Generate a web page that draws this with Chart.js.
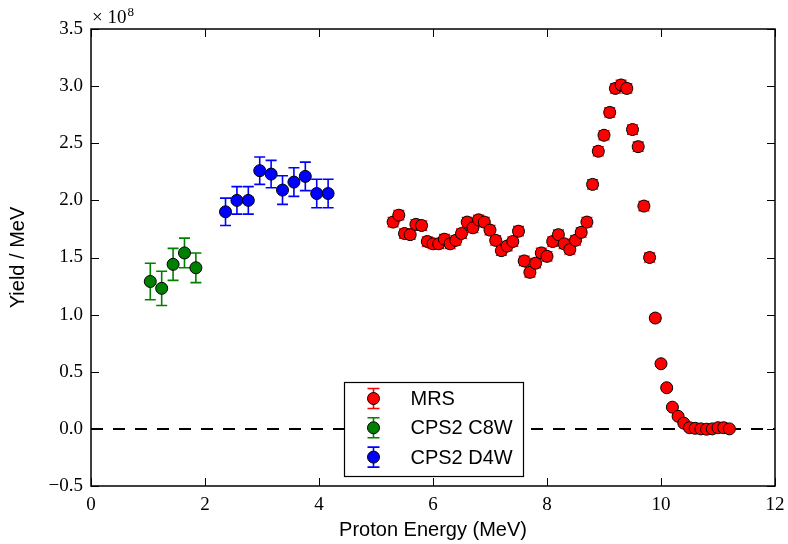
<!DOCTYPE html>
<html>
<head>
<meta charset="utf-8">
<script src="https://cdn.jsdelivr.net/npm/chart.js@4.4.1/dist/chart.umd.min.js"></script>
<style>
  html, body { margin: 0; padding: 0; background: #fff; }
  #wrap { width: 788px; height: 544px; }
</style>
</head>
<body>
<div id="wrap"><canvas id="yieldChart" width="788" height="544"></canvas></div>
<script>
// yield values are in units of 1e8 per MeV (see the x10^8 offset label)
const mrsEnergy = [5.3, 5.4, 5.5, 5.6, 5.7, 5.8, 5.9,
  6.0, 6.1, 6.2, 6.3, 6.4, 6.5, 6.6, 6.7, 6.8, 6.9,
  7.0, 7.1, 7.2, 7.3, 7.4, 7.5, 7.6, 7.7, 7.8, 7.9,
  8.0, 8.1, 8.2, 8.3, 8.4, 8.5, 8.6, 8.7, 8.8, 8.9,
  9.0, 9.1, 9.2, 9.3, 9.4, 9.5, 9.6, 9.7, 9.8, 9.9,
  10.0, 10.1, 10.2, 10.3, 10.4, 10.5, 10.6, 10.7, 10.8, 10.9,
  11.0, 11.1, 11.2];
const mrsYield = [1.81, 1.87, 1.71, 1.70, 1.79, 1.78, 1.64,
  1.62, 1.62, 1.66, 1.62, 1.65, 1.71, 1.81, 1.76, 1.83, 1.81,
  1.74, 1.65, 1.56, 1.60, 1.64, 1.73, 1.47, 1.37, 1.45, 1.54,
  1.51, 1.64, 1.70, 1.62, 1.57, 1.65, 1.72, 1.81, 2.14, 2.43,
  2.57, 2.77, 2.98, 3.01, 2.98, 2.62, 2.47, 1.95, 1.50, 0.97,
  0.57, 0.36, 0.19, 0.11, 0.05, 0.01, 0.005, 0.0, -0.003, 0.0,
  0.01, 0.01, 0.0];
const mrsErr = [0.04, 0.04, 0.04, 0.04, 0.04, 0.04, 0.04,
  0.04, 0.04, 0.04, 0.04, 0.04, 0.04, 0.04, 0.04, 0.04, 0.04,
  0.04, 0.04, 0.04, 0.04, 0.04, 0.04, 0.04, 0.04, 0.04, 0.04,
  0.04, 0.04, 0.04, 0.04, 0.04, 0.04, 0.04, 0.04, 0.04, 0.04,
  0.04, 0.04, 0.04, 0.04, 0.04, 0.04, 0.04, 0.04, 0.04, 0.03,
  0.02, 0.02, 0.01, 0.01, 0.01, 0.01, 0.01, 0.01, 0.01, 0.01,
  0.01, 0.01, 0.01];

const c8wEnergy = [1.04, 1.24, 1.44, 1.64, 1.84];
const c8wYield = [1.29, 1.23, 1.44, 1.54, 1.41];
const c8wErr = [0.16, 0.15, 0.14, 0.13, 0.13];

const d4wEnergy = [2.36, 2.56, 2.76, 2.96, 3.16, 3.36, 3.56, 3.76, 3.96, 4.16];
const d4wYield = [1.90, 2.00, 2.00, 2.26, 2.23, 2.09, 2.16, 2.21, 2.06, 2.06];
const d4wErr = [0.12, 0.12, 0.12, 0.12, 0.12, 0.125, 0.125, 0.125, 0.125, 0.125];

const zeroX = [0, 12];
const zeroY = [0, 0];

const xTicks = [0, 2, 4, 6, 8, 10, 12];
const xTickLabels = ['0', '2', '4', '6', '8', '10', '12'];
const yTicks = [-0.5, 0, 0.5, 1.0, 1.5, 2.0, 2.5, 3.0, 3.5];
const yTickLabels = ['\u22120.5', '0.0', '0.5', '1.0', '1.5', '2.0', '2.5', '3.0', '3.5'];

const serif = "'Liberation Serif', 'DejaVu Serif', serif";
const sans = "'Liberation Sans', Arial, sans-serif";

function points(xs, ys) {
  return xs.map((x, i) => ({ x: x, y: ys[i] }));
}

// draws the error bars of a dataset just before its markers
const errorBars = {
  id: 'errorBars',
  beforeDatasetDraw(chart, args) {
    const ds = chart.data.datasets[args.index];
    if (!ds.errors) return;
    const xs = chart.scales.x, ys = chart.scales.y;
    const ctx = chart.ctx;
    ctx.save();
    ctx.strokeStyle = ds.errorColor;
    ctx.lineWidth = 1.6;
    ds.data.forEach((p, i) => {
      const px = xs.getPixelForValue(p.x);
      const top = ys.getPixelForValue(p.y + ds.errors[i]);
      const bot = ys.getPixelForValue(p.y - ds.errors[i]);
      ctx.beginPath();
      ctx.moveTo(px, top); ctx.lineTo(px, bot);
      ctx.moveTo(px - 5.5, top); ctx.lineTo(px + 5.5, top);
      ctx.moveTo(px - 5.5, bot); ctx.lineTo(px + 5.5, bot);
      ctx.stroke();
    });
    ctx.restore();
  }
};

// frame, inward ticks on all sides, offset text and the legend box
const frame = {
  id: 'frame',
  afterDatasetsDraw(chart) {
    const ctx = chart.ctx;
    const a = chart.chartArea;
    const x = chart.scales.x, y = chart.scales.y;
    ctx.save();
    ctx.strokeStyle = '#000';
    ctx.lineWidth = 1;
    ctx.beginPath();
    xTicks.forEach(v => {
      const px = Math.round(x.getPixelForValue(v)) + 0.5;
      ctx.moveTo(px, a.bottom); ctx.lineTo(px, a.bottom - 8);
      ctx.moveTo(px, a.top); ctx.lineTo(px, a.top + 8);
    });
    yTicks.forEach(v => {
      const py = Math.round(y.getPixelForValue(v)) + 0.5;
      ctx.moveTo(a.left, py); ctx.lineTo(a.left + 8, py);
      ctx.moveTo(a.right, py); ctx.lineTo(a.right - 8, py);
    });
    ctx.stroke();
    ctx.lineWidth = 1.5;
    ctx.strokeRect(a.left, a.top, a.right - a.left, a.bottom - a.top);

    // x10^8
    ctx.fillStyle = '#000';
    ctx.textBaseline = 'alphabetic';
    ctx.textAlign = 'left';
    ctx.font = '19px ' + serif;
    ctx.fillText('\u00d7 10', a.left + 1, a.top - 6);
    const w = ctx.measureText('\u00d7 10').width;
    ctx.font = '13px ' + serif;
    ctx.fillText('8', a.left + 1 + w + 1, a.top - 13);

    // legend
    const bw = 179, bh = 94;
    const bx = Math.round((a.left + a.right) / 2 - bw / 2) + 0.5;
    const by = Math.round(a.bottom - 10 - bh) + 0.5;
    ctx.fillStyle = '#fff';
    ctx.fillRect(bx, by, bw, bh);
    ctx.lineWidth = 1.2;
    ctx.strokeStyle = '#000';
    ctx.strokeRect(bx, by, bw, bh);
    const items = chart.data.datasets.filter(d => d.errors);
    items.forEach((d, i) => {
      const cx = bx + 29;
      const cy = by + 16 + i * 29.3;
      ctx.strokeStyle = d.errorColor;
      ctx.lineWidth = 1.6;
      ctx.beginPath();
      ctx.moveTo(cx, cy - 10); ctx.lineTo(cx, cy + 10);
      ctx.moveTo(cx - 6, cy - 10); ctx.lineTo(cx + 6, cy - 10);
      ctx.moveTo(cx - 6, cy + 10); ctx.lineTo(cx + 6, cy + 10);
      ctx.stroke();
      ctx.beginPath();
      ctx.arc(cx, cy, 6, 0, Math.PI * 2);
      ctx.fillStyle = d.backgroundColor;
      ctx.fill();
      ctx.lineWidth = 1;
      ctx.strokeStyle = '#000';
      ctx.stroke();
      ctx.fillStyle = '#000';
      ctx.font = '20px ' + sans;
      ctx.textBaseline = 'middle';
      ctx.fillText(d.label, bx + 66, cy + 1);
    });
    ctx.restore();
  }
};

const marker = {
  pointRadius: 6,
  pointHoverRadius: 6,
  pointBorderColor: '#000',
  pointBorderWidth: 1,
  borderColor: '#000',
  showLine: false
};

new Chart(document.getElementById('yieldChart').getContext('2d'), {
  type: 'scatter',
  data: {
    // legend order is MRS, C8W, D4W; order puts D4W on top
    datasets: [
      Object.assign({}, marker, {
        label: 'MRS',
        data: points(mrsEnergy, mrsYield),
        errors: mrsErr,
        errorColor: '#ff0000',
        backgroundColor: '#ff0000',
        pointBackgroundColor: '#ff0000',
        order: 3
      }),
      Object.assign({}, marker, {
        label: 'CPS2 C8W',
        data: points(c8wEnergy, c8wYield),
        errors: c8wErr,
        errorColor: '#008000',
        backgroundColor: '#008000',
        pointBackgroundColor: '#008000',
        order: 2
      }),
      Object.assign({}, marker, {
        label: 'CPS2 D4W',
        data: points(d4wEnergy, d4wYield),
        errors: d4wErr,
        errorColor: '#0000ff',
        backgroundColor: '#0000ff',
        pointBackgroundColor: '#0000ff',
        order: 1
      }),
      {
        label: 'zero',
        data: points(zeroX, zeroY),
        showLine: true,
        borderColor: '#000',
        borderWidth: 2,
        borderDash: [12, 10],
        pointRadius: 0,
        order: 4
      }
    ]
  },
  options: {
    responsive: false,
    animation: false,
    events: [],
    layout: { padding: { top: 29, right: 13, left: 0, bottom: 0 } },
    plugins: {
      legend: { display: false },
      tooltip: { enabled: false }
    },
    scales: {
      x: {
        type: 'linear',
        min: 0,
        max: 12,
        grid: { display: false },
        border: { display: false },
        afterBuildTicks: s => { s.ticks = xTicks.map(v => ({ value: v })); },
        afterFit: s => { s.height = 58; },
        ticks: {
          color: '#000',
          padding: 0,
          maxRotation: 0,
          font: { family: serif, size: 19 },
          callback: (v, i) => xTickLabels[i]
        },
        title: {
          display: true,
          text: 'Proton Energy (MeV)',
          color: '#000',
          font: { family: sans, size: 20 },
          padding: { top: 0, bottom: 2 }
        }
      },
      y: {
        type: 'linear',
        min: -0.5,
        max: 3.5,
        grid: { display: false },
        border: { display: false },
        afterBuildTicks: s => { s.ticks = yTicks.map(v => ({ value: v })); },
        afterFit: s => { s.width = 91; },
        ticks: {
          color: '#000',
          padding: 0,
          font: { family: serif, size: 19 },
          callback: (v, i) => yTickLabels[i]
        },
        title: {
          display: true,
          text: 'Yield / MeV',
          color: '#000',
          font: { family: sans, size: 20 },
          padding: { top: 6, bottom: 0 }
        }
      }
    }
  },
  plugins: [errorBars, frame]
});
</script>
</body>
</html>
